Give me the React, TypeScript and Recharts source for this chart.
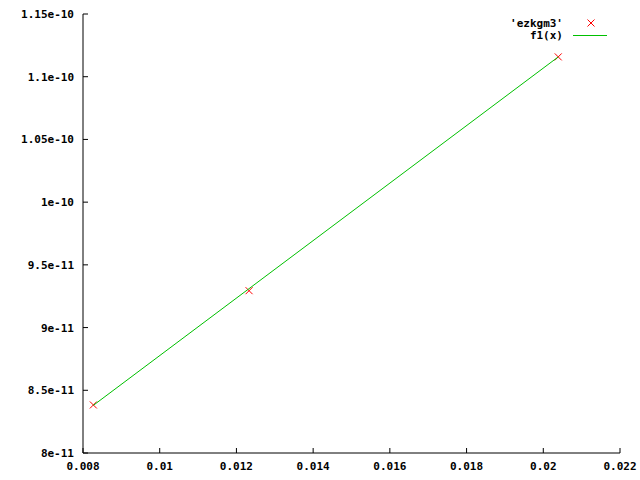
import React from 'react';
import { ComposedChart, Scatter, XAxis, YAxis } from 'recharts';

const pointX = [0.00827, 0.01233, 0.02039];
const pointY = [8.383e-11, 9.294e-11, 1.1158e-10];
const lineX = [0.00827, 0.02039];
const lineY = [8.38e-11, 1.1158e-10];
const xTicks = [0.008, 0.01, 0.012, 0.014, 0.016, 0.018, 0.02, 0.022];
const xTickLabels = ['0.008', '0.01', '0.012', '0.014', '0.016', '0.018', '0.02', '0.022'];
const yTicks = [8e-11, 8.5e-11, 9e-11, 9.5e-11, 1e-10, 1.05e-10, 1.1e-10, 1.15e-10];
const yTickLabels = ['8e-11', '8.5e-11', '9e-11', '9.5e-11', '1e-10', '1.05e-10', '1.1e-10', '1.15e-10'];
const seriesNames = ["'ezkgm3'", 'f1(x)'];

const points = pointX.map((x, i) => ({ x, y: pointY[i] }));
const fit = lineX.map((x, i) => ({ x, y: lineY[i] }));

const FONT = 'DejaVu Sans Mono';
const RED = '#ff0000';
const GREEN = '#00c000';
const TL = 5;

const BottomTick = (p: any) => {
  const { x, y, payload } = p;
  return (
    <g>
      <line x1={x} y1={y} x2={x} y2={y - TL} stroke="#000" />
      <text x={x} y={y + 17} textAnchor="middle" fontFamily={FONT} fontWeight="bold" fontSize={11} fill="#000">
        {xTickLabels[payload.index]}
      </text>
    </g>
  );
};
const TopTick = (p: any) => {
  const { x, y } = p;
  return <line x1={x} y1={y} x2={x} y2={y + TL} stroke="#000" />;
};
const LeftTick = (p: any) => {
  const { x, y, payload } = p;
  return (
    <g>
      <line x1={x} y1={y} x2={x + TL} y2={y} stroke="#000" />
      <text x={x - 9} y={y + 4} textAnchor="end" fontFamily={FONT} fontWeight="bold" fontSize={11} fill="#000">
        {yTickLabels[payload.index]}
      </text>
    </g>
  );
};
const RightTick = (p: any) => {
  const { x, y } = p;
  return <line x1={x} y1={y} x2={x - TL} y2={y} stroke="#000" />;
};

const Cross = (p: any) => {
  const { cx, cy } = p;
  const s = 3.5;
  return (
    <g>
      <line x1={cx - s} y1={cy - s} x2={cx + s} y2={cy + s} stroke={RED} />
      <line x1={cx - s} y1={cy + s} x2={cx + s} y2={cy - s} stroke={RED} />
    </g>
  );
};
const Nothing = () => <g />;

export default function App() {
  return (
    <div style={{ position: 'absolute', left: 0, top: 0, width: 640, height: 480, background: '#fff' }}>
      <ComposedChart width={640} height={480} margin={{ top: 14, right: 20, bottom: 0, left: 0 }}>
        <XAxis
          xAxisId="b"
          type="number"
          dataKey="x"
          domain={[0.008, 0.022]}
          ticks={xTicks}
          allowDataOverflow
          height={27}
          tickSize={0}
          tickMargin={0}
          tickLine={false}
          axisLine={{ stroke: '#000' }}
          tick={<BottomTick />}
          interval={0}
        />
        <XAxis
          xAxisId="t"
          orientation="top"
          type="number"
          dataKey="x"
          domain={[0.008, 0.022]}
          ticks={xTicks}
          allowDataOverflow
          height={0}
          tickSize={0}
          tickMargin={0}
          tickLine={false}
          axisLine={{ stroke: '#000' }}
          tick={<TopTick />}
          interval={0}
        />
        <YAxis
          yAxisId="l"
          type="number"
          dataKey="y"
          domain={[8e-11, 1.15e-10]}
          ticks={yTicks}
          allowDataOverflow
          width={83}
          tickSize={0}
          tickMargin={0}
          tickLine={false}
          axisLine={{ stroke: '#000' }}
          tick={<LeftTick />}
          interval={0}
        />
        <YAxis
          yAxisId="r"
          orientation="right"
          type="number"
          dataKey="y"
          domain={[8e-11, 1.15e-10]}
          ticks={yTicks}
          allowDataOverflow
          width={0}
          tickSize={0}
          tickMargin={0}
          tickLine={false}
          axisLine={{ stroke: '#000' }}
          tick={<RightTick />}
          interval={0}
        />
        <Scatter xAxisId="b" yAxisId="l" data={points} shape={<Cross />} isAnimationActive={false} />
        <Scatter
          xAxisId="b"
          yAxisId="l"
          data={fit}
          line={{ stroke: GREEN, strokeWidth: 1 }}
          shape={<Nothing />}
          isAnimationActive={false}
        />
      </ComposedChart>
      <svg width={640} height={50} style={{ position: 'absolute', left: 0, top: 0 }}>
        <text x={563} y={27} textAnchor="end" fontFamily={FONT} fontWeight="bold" fontSize={11} fill="#000">
          {seriesNames[0]}
        </text>
        <line x1={587.5} y1={19.5} x2={594.5} y2={26.5} stroke={RED} />
        <line x1={587.5} y1={26.5} x2={594.5} y2={19.5} stroke={RED} />
        <text x={563} y={39} textAnchor="end" fontFamily={FONT} fontWeight="bold" fontSize={11} fill="#000">
          {seriesNames[1]}
        </text>
        <line x1={573} y1={35.5} x2={607} y2={35.5} stroke={GREEN} />
      </svg>
    </div>
  );
}
